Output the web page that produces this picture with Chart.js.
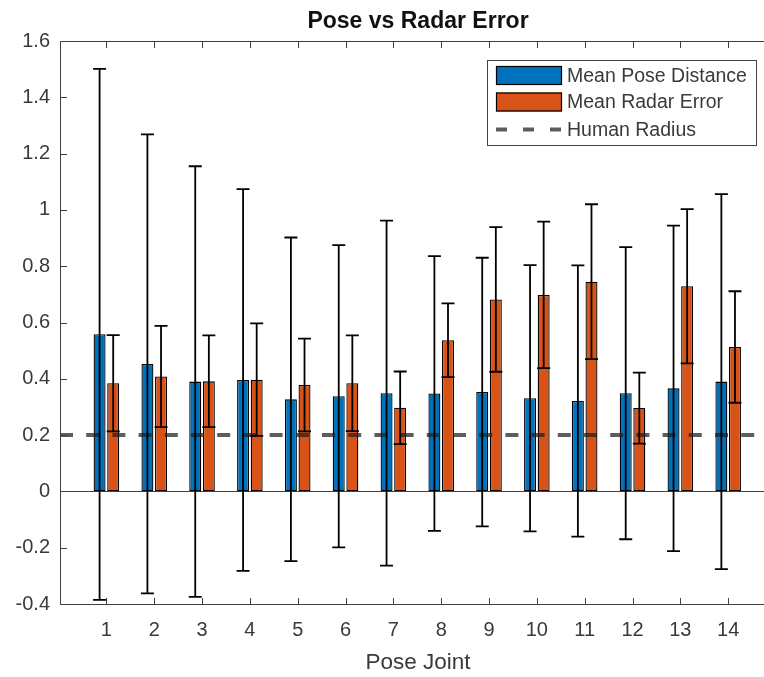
<!DOCTYPE html>
<html lang="en">
<head>
<meta charset="UTF-8">
<title>Pose vs Radar Error</title>
<script src="https://cdn.jsdelivr.net/npm/chart.js"></script>
<style>
  html, body { margin: 0; padding: 0; background: #fff; overflow: hidden; }
  #wrap { width: 764px; height: 677px; overflow: hidden; }
</style>
</head>
<body>
<div id="wrap"><canvas id="chart" width="776" height="677"></canvas></div>
<script>
// per-joint statistics
const joints = [1, 2, 3, 4, 5, 6, 7, 8, 9, 10, 11, 12, 13, 14];
const poseMean = [0.558, 0.453, 0.390, 0.396, 0.327, 0.338, 0.349, 0.348, 0.353, 0.331, 0.321, 0.349, 0.366, 0.390];
const poseStd = [0.943, 0.815, 0.765, 0.678, 0.575, 0.537, 0.613, 0.488, 0.477, 0.473, 0.482, 0.519, 0.578, 0.666];
const radarMean = [0.384, 0.408, 0.391, 0.397, 0.378, 0.384, 0.297, 0.537, 0.682, 0.698, 0.745, 0.296, 0.729, 0.513];
const radarStd = [0.171, 0.180, 0.163, 0.200, 0.165, 0.170, 0.129, 0.131, 0.257, 0.260, 0.275, 0.126, 0.274, 0.198];
const HUMAN_RADIUS = 0.2;

const yTicks = [-0.4, -0.2, 0, 0.2, 0.4, 0.6, 0.8, 1, 1.2, 1.4, 1.6];
const xLimits = [0.03, 15];
const yLimits = [-0.4, 1.6];

const BLUE = '#0072BD';
const ORANGE = '#D95319';
const TEXT = '#3a3a3a';
const FONT = '"Liberation Sans", Arial, Helvetica, sans-serif';

Chart.defaults.font.family = FONT;

function errorBars(ctx, chart, dsIndex, means, stds) {
  const meta = chart.getDatasetMeta(dsIndex);
  const y = chart.scales.y;
  const cap = 6.5;
  ctx.save();
  ctx.strokeStyle = '#000';
  ctx.lineWidth = 1.8;
  meta.data.forEach((bar, i) => {
    const hi = y.getPixelForValue(means[i] + stds[i]);
    const lo = y.getPixelForValue(means[i] - stds[i]);
    ctx.beginPath();
    ctx.moveTo(bar.x, hi); ctx.lineTo(bar.x, lo);
    ctx.moveTo(bar.x - cap, hi); ctx.lineTo(bar.x + cap, hi);
    ctx.moveTo(bar.x - cap, lo); ctx.lineTo(bar.x + cap, lo);
    ctx.stroke();
  });
  ctx.restore();
}

// box axes with inward ticks, bar baseline, error bars, legend, title and x label
const matlabLook = {
  id: 'matlabLook',
  afterDatasetsDraw(chart) {
    const ctx = chart.ctx;
    const { left, right, top, bottom } = chart.chartArea;
    const xs = chart.scales.x, ys = chart.scales.y;

    // bar baseline at zero
    const y0 = Math.round(ys.getPixelForValue(0)) + 0.5;
    ctx.save();
    ctx.strokeStyle = '#404040';
    ctx.lineWidth = 1.2;
    ctx.beginPath();
    ctx.moveTo(left, y0); ctx.lineTo(right, y0);
    ctx.stroke();
    ctx.restore();

    errorBars(ctx, chart, 1, poseMean, poseStd);
    errorBars(ctx, chart, 2, radarMean, radarStd);

    // frame
    const L = Math.round(left) + 0.5, R = Math.round(right) - 0.5;
    const T = Math.round(top) + 0.5, B = Math.round(bottom) + 0.5;
    ctx.save();
    ctx.strokeStyle = '#404040';
    ctx.lineWidth = 1;
    ctx.beginPath();
    ctx.rect(L, T, R - L, B - T);
    const tl = 6.5;
    joints.forEach(j => {
      const px = Math.round(xs.getPixelForValue(j)) + 0.5;
      ctx.moveTo(px, T); ctx.lineTo(px, T + tl);
      ctx.moveTo(px, B); ctx.lineTo(px, B - tl);
    });
    yTicks.forEach(v => {
      const py = Math.round(ys.getPixelForValue(v)) + 0.5;
      ctx.moveTo(L, py); ctx.lineTo(L + tl, py);
      ctx.moveTo(R, py); ctx.lineTo(R - tl, py);
    });
    ctx.stroke();
    ctx.restore();

    // legend
    const ds = chart.data.datasets;
    ctx.save();
    ctx.fillStyle = '#fff';
    ctx.strokeStyle = '#444';
    ctx.lineWidth = 1;
    ctx.fillRect(487.5, 60.5, 269, 85);
    ctx.strokeRect(487.5, 60.5, 269, 85);
    const rows = [
      { ds: ds[1], y: 75.5 },
      { ds: ds[2], y: 102 },
      { ds: ds[0], y: 129.5 }
    ];
    ctx.font = '19.5px ' + FONT;
    ctx.textBaseline = 'middle';
    ctx.textAlign = 'left';
    rows.forEach(r => {
      if (r.ds.type === 'line') {
        ctx.save();
        ctx.strokeStyle = r.ds.borderColor;
        ctx.lineWidth = r.ds.borderWidth;
        ctx.setLineDash([11, 16]);
        ctx.beginPath();
        ctx.moveTo(496, r.y); ctx.lineTo(563, r.y);
        ctx.stroke();
        ctx.restore();
      } else {
        ctx.fillStyle = r.ds.backgroundColor;
        ctx.fillRect(496, r.y - 9.5, 66, 19);
        ctx.strokeStyle = '#000';
        ctx.lineWidth = 1.2;
        ctx.strokeRect(496.5, r.y - 9, 65, 18);
      }
      ctx.fillStyle = TEXT;
      ctx.fillText(r.ds.label, 567, r.y + 1);
    });
    ctx.restore();
  },
  afterDraw(chart) {
    const ctx = chart.ctx;
    const { left, right } = chart.chartArea;
    const cx = (left + right) / 2;
    ctx.save();
    ctx.textAlign = 'center';
    ctx.textBaseline = 'alphabetic';
    ctx.fillStyle = '#111';
    ctx.font = 'bold 23px ' + FONT;
    ctx.fillText('Pose vs Radar Error', cx, 28);
    ctx.fillStyle = TEXT;
    ctx.font = '22.5px ' + FONT;
    ctx.fillText('Pose Joint', cx, 669);
    ctx.restore();
  }
};

new Chart(document.getElementById('chart'), {
  type: 'bar',
  data: {
    datasets: [
      {
        type: 'line',
        label: 'Human Radius',
        data: [{ x: xLimits[0], y: HUMAN_RADIUS }, { x: xLimits[1], y: HUMAN_RADIUS }],
        borderColor: 'rgba(30,30,30,0.72)',
        borderWidth: 4,
        borderDash: [13, 13.2],
        pointRadius: 0,
        order: 0
      },
      {
        label: 'Mean Pose Distance',
        data: joints.map((j, i) => ({ x: j, y: poseMean[i] })),
        backgroundColor: BLUE,
        borderColor: '#000',
        borderWidth: 1.3,
        borderSkipped: false,
        categoryPercentage: 0.569,
        barPercentage: 0.88,
        order: 1
      },
      {
        label: 'Mean Radar Error',
        data: joints.map((j, i) => ({ x: j, y: radarMean[i] })),
        backgroundColor: ORANGE,
        borderColor: '#000',
        borderWidth: 1.3,
        borderSkipped: false,
        categoryPercentage: 0.569,
        barPercentage: 0.88,
        order: 1
      }
    ]
  },
  options: {
    responsive: false,
    animation: false,
    events: [],
    layout: { padding: { top: 41, left: 0, right: 0, bottom: 0 } },
    plugins: {
      legend: { display: false },
      title: { display: false },
      tooltip: { enabled: false }
    },
    scales: {
      x: {
        type: 'linear',
        min: xLimits[0],
        max: xLimits[1],
        offset: false,
        grid: { display: false, drawTicks: false },
        border: { display: false },
        afterBuildTicks: axis => { axis.ticks = joints.map(v => ({ value: v })); },
        afterFit: scale => { scale.height = 73; },
        ticks: {
          color: TEXT,
          font: { size: 20 },
          padding: 14,
          maxRotation: 0,
          callback: v => String(v)
        }
      },
      y: {
        min: yLimits[0],
        max: yLimits[1],
        grid: { display: false, drawTicks: false },
        border: { display: false },
        afterBuildTicks: axis => { axis.ticks = yTicks.map(v => ({ value: v })); },
        afterFit: scale => { scale.width = 60; },
        ticks: {
          color: TEXT,
          font: { size: 20 },
          padding: 10,
          callback: v => String(+v.toFixed(1))
        }
      }
    }
  },
  plugins: [matlabLook]
});
</script>
</body>
</html>
